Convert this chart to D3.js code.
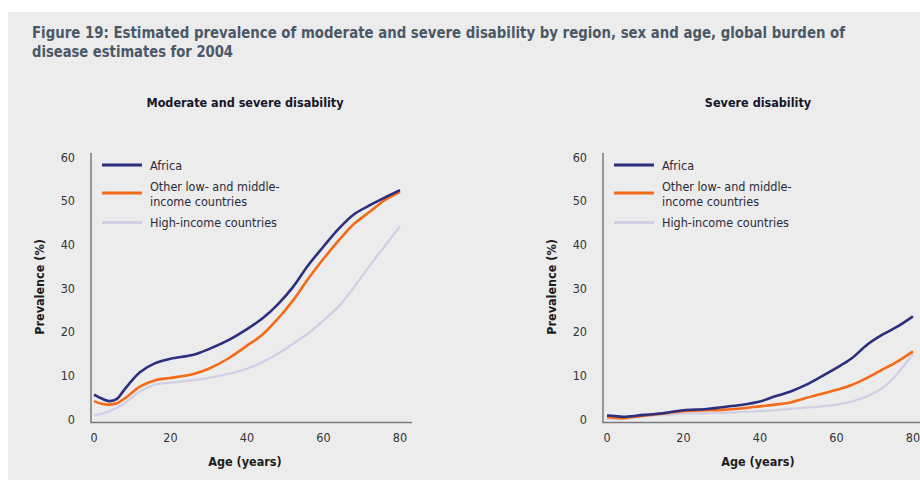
<!DOCTYPE html>
<html>
<head>
<meta charset="utf-8">
<script src="https://cdn.jsdelivr.net/npm/d3@7"></script>
<style>
  body { margin: 0; background: #fff; }
  svg { display: block; }
  text { font-family: "DejaVu Sans Condensed", "Liberation Sans Narrow", sans-serif; }
</style>
</head>
<body>
<div id="graph"></div>
<script>
// ages
var ages = [0, 2, 4, 6, 8, 12, 16, 20, 26, 30, 35, 40, 44, 48, 52, 56, 60, 64, 68, 72, 76, 80]

// moderate and severe disability, prevalence %
var africaMod = [5.6, 4.7, 4.1, 4.6, 6.8, 10.7, 12.8, 13.8, 14.7, 16, 18, 20.6, 23, 26.2, 30.2, 35.2, 39.5, 43.6, 46.9, 48.9, 50.7, 52.4]
var otherMod  = [4.1, 3.5, 3.3, 3.6, 4.7, 7.4, 8.9, 9.4, 10.3, 11.5, 13.8, 16.8, 19.3, 22.9, 27.1, 32.1, 36.7, 40.9, 44.7, 47.4, 50.1, 52]
var highMod   = [0.8, 1.2, 1.8, 2.6, 3.6, 6.3, 7.9, 8.3, 8.9, 9.4, 10.3, 11.5, 13, 14.9, 17.2, 19.6, 22.6, 25.8, 30.2, 35, 39.6, 44.1]

// severe disability, prevalence %
var africaSev = [0.8, 0.7, 0.5, 0.6, 0.8, 1.1, 1.5, 2, 2.3, 2.7, 3.2, 4, 5.2, 6.3, 7.8, 9.7, 11.7, 13.9, 17, 19.3, 21.2, 23.5]
var otherSev  = [0.4, 0.3, 0.2, 0.4, 0.6, 1.0, 1.4, 1.8, 2, 2.1, 2.4, 2.9, 3.3, 3.8, 4.8, 5.7, 6.7, 7.8, 9.4, 11.3, 13.2, 15.5]
var highSev   = [0, 0, 0, 0.2, 0.4, 0.8, 1, 1.2, 1.3, 1.4, 1.6, 1.8, 2.0, 2.3, 2.6, 2.9, 3.3, 4, 5.2, 7.1, 10.5, 15]

var seriesNames = ['Africa', 'Other low- and middle-|income countries', 'High-income countries']
var colors = ['#2b2f7e', '#f46a16', '#cfcfe5']
var widths = [2.6, 2.6, 2.2]
var xTicks = [0, 20, 40, 60, 80]
var yTicks = [0, 10, 20, 30, 40, 50, 60]

var panels = [
  {title: 'Moderate and severe disability', data: [africaMod, otherMod, highMod], axisX: 91, x0: 94, x1: 400},
  {title: 'Severe disability', data: [africaSev, otherSev, highSev], axisX: 603, x0: 607, x1: 913}
]

var svg = d3.select('#graph').append('svg')
  .attr('width', 920).attr('height', 480)

svg.append('rect')
  .attr('x', 8).attr('y', 12).attr('width', 912).attr('height', 468)
  .attr('fill', '#ececec')

var titleLines = ['Figure 19: Estimated prevalence of moderate and severe disability by region, sex and age, global burden of',
  'disease estimates for 2004']
svg.selectAll('text.fig-title').data(titleLines).join('text')
  .attr('class', 'fig-title')
  .attr('x', 32).attr('y', (d, i) => 38 + i * 19)
  .attr('textLength', (d, i) => i ? 201 : 813)
  .attr('lengthAdjust', 'spacingAndGlyphs')
  .attr('fill', '#4a5868').attr('font-weight', 'bold').attr('font-size', 15)
  .text(d => d)

var y = d3.scaleLinear().domain([0, 60]).range([419, 157])

panels.forEach(p => {
  var x = d3.scaleLinear().domain([0, 80]).range([p.x0, p.x1])
  var g = svg.append('g')
  var cx = (p.x0 + p.x1) / 2 - 2

  g.append('text')
    .attr('x', cx).attr('y', 107).attr('text-anchor', 'middle')
    .attr('font-weight', 'bold').attr('font-size', 12.5).attr('fill', '#15152a')
    .text(p.title)

  // axes lines
  g.append('path')
    .attr('d', `M${p.axisX},153V422.5H${p.x1 + 12}`)
    .attr('fill', 'none').attr('stroke', '#7a7a7a').attr('stroke-width', 1.5)

  g.selectAll('text.ytick').data(yTicks).join('text')
    .attr('class', 'ytick')
    .attr('x', p.axisX - 16).attr('y', d => y(d) + 4.5)
    .attr('text-anchor', 'end').attr('font-size', 12.5).attr('fill', '#333')
    .text(d => d)

  g.selectAll('text.xtick').data(xTicks).join('text')
    .attr('class', 'xtick')
    .attr('x', d => x(d)).attr('y', 441.5)
    .attr('text-anchor', 'middle').attr('font-size', 12.5).attr('fill', '#333')
    .text(d => d)

  g.append('text')
    .attr('x', cx).attr('y', 466).attr('text-anchor', 'middle')
    .attr('font-weight', 'bold').attr('font-size', 12.5).attr('fill', '#1c1c1c')
    .text('Age (years)')

  g.append('text')
    .attr('transform', `translate(${p.axisX - 47},287) rotate(-90)`)
    .attr('text-anchor', 'middle')
    .attr('font-weight', 'bold').attr('font-size', 12.5).attr('fill', '#1c1c1c')
    .text('Prevalence (%)')

  var line = d3.line()
    .x((d, i) => x(ages[i]))
    .y(d => y(d))
    .curve(d3.curveCatmullRom)

  // draw high-income first so the others sit on top
  ;[2, 1, 0].forEach(k => {
    g.append('path')
      .attr('d', line(p.data[k]))
      .attr('fill', 'none').attr('stroke', colors[k])
      .attr('stroke-width', widths[k]).attr('stroke-linejoin', 'round')
  })

  // legend
  var lx = p.axisX + 11
  var legY = [165, 193, 222.5]
  seriesNames.forEach((name, k) => {
    g.append('line')
      .attr('x1', lx).attr('x2', lx + 40)
      .attr('y1', legY[k]).attr('y2', legY[k])
      .attr('stroke', colors[k]).attr('stroke-width', 3)
    var parts = name.split('|')
    var t = g.append('text')
      .attr('font-size', 12.5).attr('fill', '#2a2a3a')
    parts.forEach((s, j) => {
      t.append('tspan')
        .attr('x', lx + 48)
        .attr('y', parts.length > 1 ? 191 + j * 15 : legY[k] + 4.5)
        .text(s)
    })
  })
})
</script>
</body>
</html>
